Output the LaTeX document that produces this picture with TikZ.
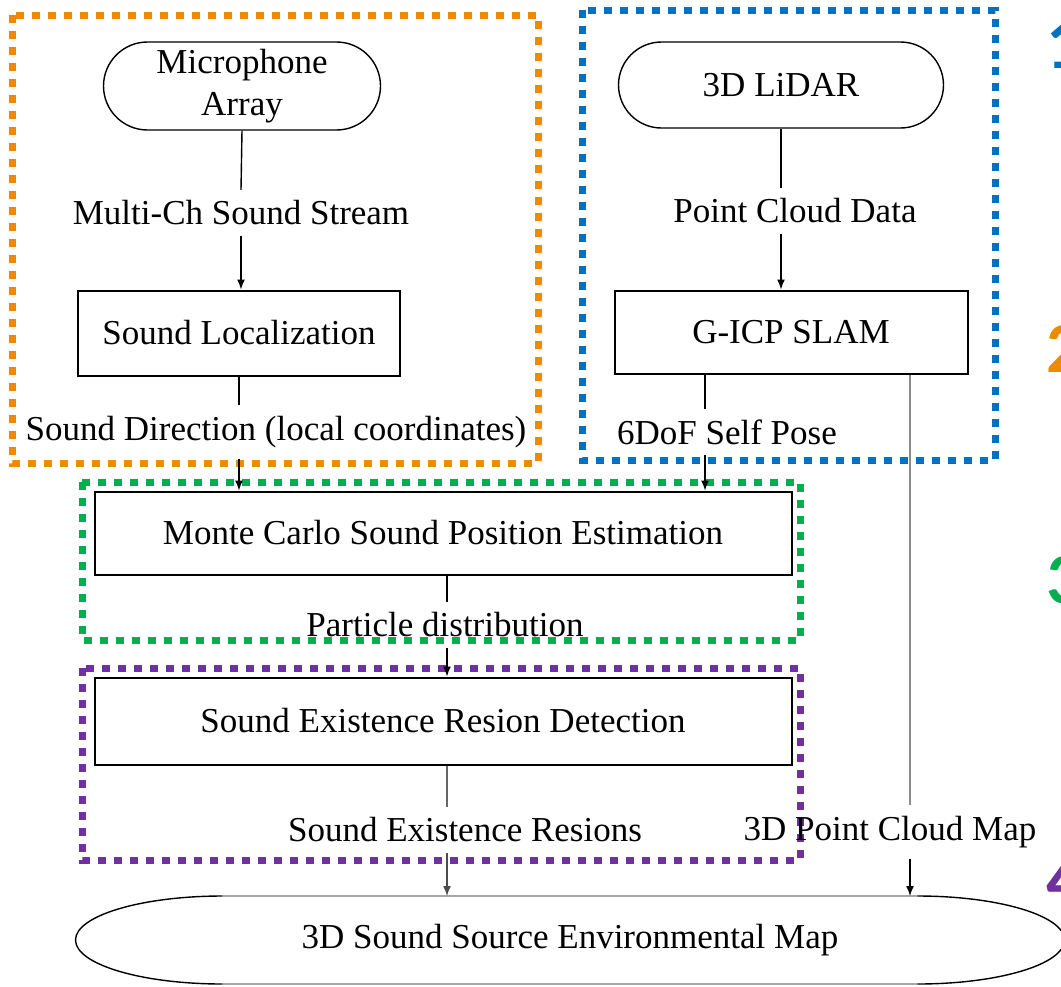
\documentclass[tikz,border=0pt]{standalone}
\usepackage{fontspec}
\setmainfont{Liberation Serif}
\newfontfamily\numfont{Carlito}
\usetikzlibrary{arrows.meta,shapes.misc}

\definecolor{grporange}{RGB}{237,139,0}
\definecolor{grpblue}{RGB}{0,112,192}
\definecolor{grpgreen}{RGB}{0,176,80}
\definecolor{grppurple}{RGB}{112,48,160}

\tikzset{
  sensor/.style={draw, rounded rectangle, line width=0.7pt, align=center, inner sep=2pt},
  proc/.style={draw, rectangle, line width=1pt},
  flowlbl/.style={inner sep=5pt},
  arr/.style={-{Latex[length=5pt,width=4pt]}},
  dotframe/.style={draw=#1, line width=3.5pt, dash pattern=on 4pt off 4pt},
  stepnum/.style={font=\numfont\bfseries\fontsize{36}{36}\selectfont, text=#1, anchor=base west, inner sep=0pt}
}

\begin{document}
\begin{tikzpicture}[
  x=0.5pt, y=-0.5pt,
  font=\fontsize{17.5}{21}\selectfont,
  every path/.append style={line width=0.7pt}
  ]
  \useasboundingbox (0,0) rectangle (1061,986);

  % group frames
  \draw[dotframe=grporange] (12,15) rectangle (538,463);
  \draw[dotframe=grpblue] (582,10) rectangle (995,460);
  \draw[dotframe=grpgreen] (82,482) rectangle (800,640);
  \draw[dotframe=grppurple] (82,668) rectangle (800,860);

  % sound branch
  \node[sensor, minimum width=142.5pt, minimum height=44pt] (mic) at (242,86) {Microphone\\Array};
  \node[flowlbl] (msstream) at (241,213) {Multi-Ch Sound Stream};
  \node[proc, minimum width=161pt, minimum height=42.5pt] (loc) at (239,333) {Sound Localization};
  \node[flowlbl] (sdir) at (276,432) {Sound Direction (local coordinates)};

  % lidar branch
  \node[sensor, minimum width=166.5pt, minimum height=43pt] (lidar) at (781,85) {3D LiDAR};
  \node[flowlbl] (pcd) at (795,211) {Point Cloud Data};
  \node[proc, minimum width=176.5pt, minimum height=41.5pt] (gicp) at (791,332) {G-ICP SLAM};
  \node[flowlbl] (pose) at (727,432) {6DoF Self Pose};

  % estimation and mapping
  \node[proc, minimum width=348.5pt, minimum height=41.5pt] (mcl) at (443,533) {Monte Carlo Sound Position Estimation};
  \node[flowlbl] (partdist) at (445,625) {Particle distribution};
  \node[proc, minimum width=348.5pt, minimum height=43.5pt] (serd) at (443,721) {Sound Existence Resion Detection};
  \node[flowlbl] (seres) at (465,830) {Sound Existence Resions};
  \node[flowlbl] (pcmap) at (890,832) {3D Point Cloud Map};
  \node[minimum width=494.5pt, minimum height=44pt, outer sep=0pt] (envmap) at (570,940) {3D Sound Source Environmental Map};
  \draw[black!35] ([xshift=73.5pt]envmap.north west) -- ([xshift=-73.5pt]envmap.north east);
  \draw[black!35] ([xshift=73.5pt]envmap.south west) -- ([xshift=-73.5pt]envmap.south east);
  \draw ([xshift=73.5pt]envmap.north west) arc[start angle=90, end angle=270, x radius=73.5pt, y radius=22pt];
  \draw ([xshift=-73.5pt]envmap.north east) arc[start angle=90, end angle=-90, x radius=73.5pt, y radius=22pt];

  % connectors
  \draw (mic.south) -- (msstream.north);
  \draw[arr] (msstream.south) -- (msstream.south |- loc.north);
  \draw (loc.south) -- (loc.south |- sdir.north);
  \draw[arr] (loc.south |- sdir.south) -- (loc.south |- mcl.north);

  \draw (lidar.south) -- (lidar.south |- pcd.north);
  \draw[arr] (lidar.south |- pcd.south) -- (lidar.south |- gicp.north);
  \draw ([xshift=-43pt]gicp.south) -- ([xshift=-43pt]gicp.south |- pose.north);
  \draw[arr] ([xshift=-43pt]gicp.south |- pose.south) -- ([xshift=-43pt]gicp.south |- mcl.north);
  \draw[black!45] ([xshift=59.5pt]gicp.south) -- ([xshift=59.5pt]gicp.south |- pcmap.north);
  \draw[arr] ([xshift=59.5pt]gicp.south |- pcmap.south) -- ([xshift=59.5pt]gicp.south |- envmap.north);

  \draw ([xshift=2pt]mcl.south) -- ([xshift=2pt]mcl.south |- partdist.north);
  \draw[arr] ([xshift=2pt]mcl.south |- partdist.south) -- ([xshift=2pt]mcl.south |- serd.north);
  \draw[black!60] ([xshift=2pt]serd.south) -- ([xshift=2pt]serd.south |- seres.north);
  \draw[arr, black!70] ([xshift=2pt]serd.south |- seres.south) -- ([xshift=2pt]serd.south |- envmap.north);

  % step numbers
  \node[stepnum=grpblue] (n1) at (1046,68) {1};
  \node[stepnum=grporange] (n2) at (1046,372) {2};
  \node[stepnum=grpgreen] (n3) at (1046,603) {3};
  \node[stepnum=grppurple] (n4) at (1046,903) {4};
\end{tikzpicture}
\end{document}
